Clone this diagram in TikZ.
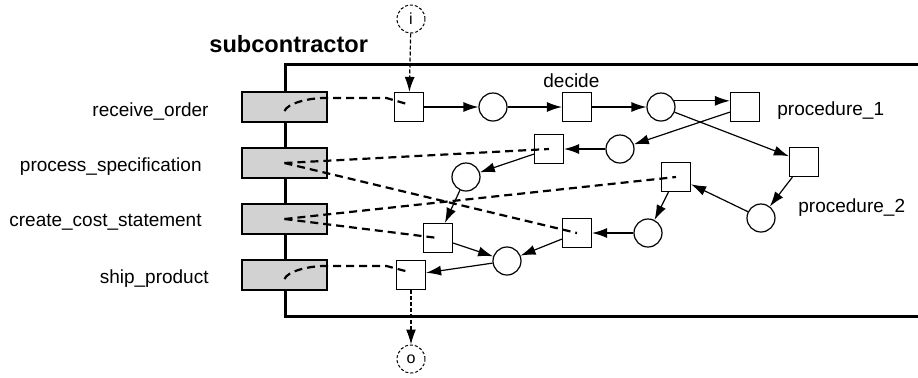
\documentclass[tikz,border=0pt]{standalone}
\usepackage{fontspec}
\setmainfont{Liberation Sans}
\usetikzlibrary{arrows.meta}

\begin{document}
\begin{tikzpicture}[x=0.5pt, y=-0.5pt, node distance=42pt, every node/.style={font=\fontsize{9.5}{11}\selectfont},
    trans/.style={draw, rectangle, fill=white, minimum size=14.5pt, inner sep=0pt, line width=0.6pt},
    place/.style={draw, circle, fill=white, minimum size=14pt, inner sep=0pt, line width=0.6pt},
    ioplace/.style={draw, circle, dash pattern=on 1.5pt off 1pt, minimum size=14pt, inner sep=0pt, line width=0.5pt, font=\fontsize{8}{9}\selectfont},
    iface/.style={draw, fill=gray!35, line width=1.3pt, minimum width=42.5pt, minimum height=15pt, inner sep=0pt},
    link/.style={line width=1.1pt, dash pattern=on 4pt off 2.5pt},
    arc/.style={-{Latex[length=7.5pt, width=5pt]}, line width=0.6pt},
    ioarc/.style={-{Latex[length=7.5pt, width=5pt]}, line width=0.6pt, dash pattern=on 2pt off 1pt}]
    \useasboundingbox (0,0) rectangle (918,377);

    % Subcontractor frame
    \draw[line width=1.5pt] (930,64) -- (285,64) -- (285,316) -- (930,316);
    \node[anchor=base west, inner sep=0pt, font=\bfseries\fontsize{11.8}{14}\selectfont] (title) at (209,52) {subcontractor};

    % Interface boxes
    \node[iface] (ro) at (284.5,107) {};
    \node[iface, below of=ro, node distance=28pt] (ps) {};
    \node[iface, below of=ps, node distance=28pt] (cs) {};
    \node[iface, below of=cs, node distance=28pt] (sp) {};
    \node[anchor=base east, inner sep=0pt] (ro-label) at (209,116) {receive\_order};
    \node[anchor=base east, inner sep=0pt] (ps-label) at (202,171) {process\_specification};
    \node[anchor=base east, inner sep=0pt] (cs-label) at (202,226) {create\_cost\_statement};
    \node[anchor=base east, inner sep=0pt] (sp-label) at (209,283) {ship\_product};

    % Main row
    \node[trans] (t1) at (409,107) {};
    \node[place, right of=t1] (p1) {};
    \node[trans, right of=p1] (decide) {};
    \node[place, right of=decide] (p2) {};
    \node[trans, right of=p2] (proc1) {};
    \node[anchor=base west, inner sep=0pt] (decide-label) at (543,87) {decide};
    \node[anchor=base west, inner sep=0pt] (proc1-label) at (777,115) {procedure\_1};

    % Procedure 1 branch
    \node[place] (p3) at (620,149) {};
    \node[trans] (tps) at (549,149) {};
    \node[place] (p4) at (466,177) {};
    \node[trans] (tcs) at (438,238) {};
    \node[place] (p5) at (507,261) {};
    \node[trans] (ship) at (411,275) {};

    % Procedure 2 branch
    \node[trans] (proc2) at (804,162) {};
    \node[anchor=base west, inner sep=0pt] (proc2-label) at (798,212) {procedure\_2};
    \node[place] (p6) at (761,218) {};
    \node[trans] (tcs2) at (676,177) {};
    \node[place] (p7) at (648,233) {};
    \node[trans] (tps2) at (577,233) {};

    % Input and output
    \node[ioplace] (i) at (411,19) {i};
    \node[ioplace] (o) at (411,359) {o};
    \draw[ioarc] (i) -- (t1);
    \draw[ioarc] (ship) -- (o);

    % Interface links
    \draw[link] ([yshift=-2pt]ro.center) .. controls +(3,-8) and +(-15,0) .. ++(40,-13) -- ++(62,0) -- ([shift={(-1pt,1.5pt)}]t1.center);
    \draw[link] ([yshift=-2pt]sp.center) .. controls +(3,-8) and +(-15,0) .. ++(40,-13) -- ++(62,0) -- ([shift={(-1pt,1.5pt)}]ship.center);
    \draw[link] (ps.center) -- (tps.center);
    \draw[link] (ps.center) -- (tps2.center);
    \draw[link] (cs.center) -- (tcs2.center);
    \draw[link] (cs.center) -- (tcs.center);

    % Flow arcs
    \draw[arc] (t1) -- (p1);
    \draw[arc] (p1) -- (decide);
    \draw[arc] (decide) -- (p2);
    \draw[arc] (p2.25) -- (p2.25 -| proc1.west);
    \draw[arc] (p2) -- (proc2);
    \draw[arc] (proc1) -- (p3);
    \draw[arc] (p3) -- (tps);
    \draw[arc] (tps) -- (p4);
    \draw[arc] (p4) -- (tcs);
    \draw[arc] (tcs) -- (p5);
    \draw[arc] (p5) -- (ship);
    \draw[arc] (proc2) -- (p6);
    \draw[arc] (p6) -- (tcs2);
    \draw[arc] (tcs2) -- (p7);
    \draw[arc] (p7) -- (tps2);
    \draw[arc] (tps2) -- (p5);
\end{tikzpicture}
\end{document}
